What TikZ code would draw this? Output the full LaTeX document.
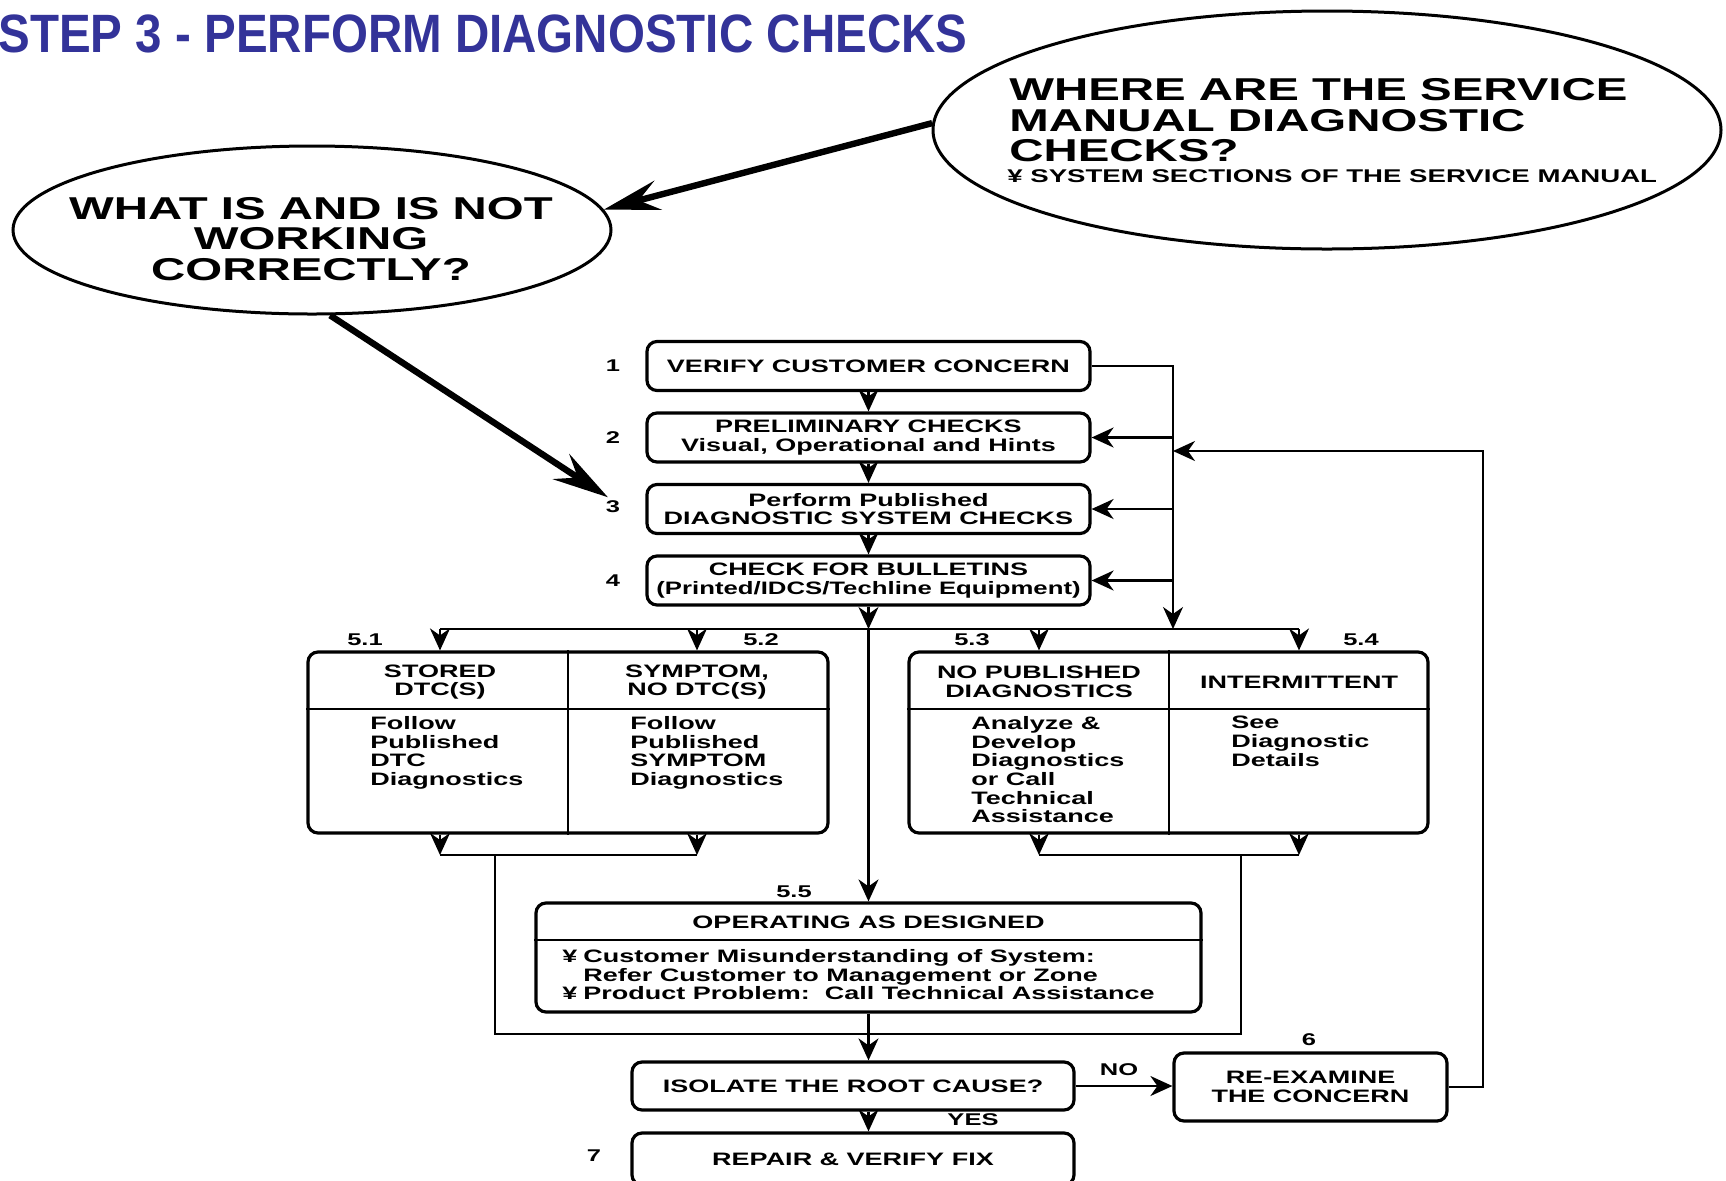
\documentclass[tikz,border=0pt]{standalone}
\usepackage{fontspec}
\setmainfont{Liberation Sans}
\newfontfamily\chartfont[FakeStretch=1.5]{Liberation Sans}
\newfontfamily\tightchart[FakeStretch=1.43]{Liberation Sans}
\newfontfamily\titlefont[FakeStretch=0.88]{Liberation Sans}
\usetikzlibrary{arrows.meta,shapes.geometric,positioning}
\definecolor{titleblue}{RGB}{51,51,153}
\begin{document}
\begin{tikzpicture}[x=0.5pt, y=-0.5pt,
    titletext/.style={inner sep=0pt, text=titleblue, font=\titlefont\bfseries\fontsize{27}{30}\selectfont},
    bubble/.style={draw, ellipse, line width=1.5pt, inner sep=0pt},
    bubbletext/.style={inner sep=0pt, font=\chartfont\bfseries\fontsize{15.8}{15.2}\selectfont},
    subtext/.style={inner sep=0pt, font=\chartfont\bfseries\fontsize{9.2}{10}\selectfont},
    stepbox/.style={draw, line width=1.6pt, rounded corners=5pt, minimum width=221.5pt, minimum height=24.5pt, inner sep=1pt, align=center, font=\chartfont\bfseries\fontsize{9}{9.4}\selectfont},
    groupbox/.style={draw, line width=1.6pt, rounded corners=5pt, inner sep=0pt},
    celltext/.style={inner sep=0pt, font=\chartfont\bfseries\fontsize{9}{9.35}\selectfont},
    tag/.style={inner sep=0pt, font=\chartfont\bfseries\fontsize{8.5}{9}\selectfont},
    divider/.style={line width=1pt},
    conn/.style={line width=1.1pt},
    arr/.style={conn, -{Stealth[length=11pt, width=10pt, inset=3.5pt]}},
    bigarr/.style={line width=3.2pt, -{Stealth[length=28pt, width=15pt, inset=10pt]}}]
    \useasboundingbox (0,0) rectangle (1726,1180);
    \node [titletext, anchor=base west] (title) at (-2,52) {STEP 3 - PERFORM DIAGNOSTIC CHECKS};

    \node [bubble, minimum width=394pt, minimum height=119pt] (whereq) at (1327,130) {};
    \node [bubbletext, anchor=west, align=left] (whereqtxt) at (1009,120.5) {WHERE ARE THE SERVICE\\MANUAL DIAGNOSTIC\\CHECKS?};
    \node [subtext, anchor=base west] (whereqsub) at (1007,182) {¥ SYSTEM SECTIONS OF THE SERVICE MANUAL};
    \node [bubble, minimum width=299pt, minimum height=84pt] (whatq) at (312,230) {};
    \node [bubbletext, align=center] (whatqtxt) at (311,239) {WHAT IS AND IS NOT\\WORKING\\CORRECTLY?};
    \draw [bigarr] (whereq.179) -- (whatq.4);

    \node [stepbox] (box1) at (868.5,366) {VERIFY CUSTOMER CONCERN};
    \node [stepbox] (box2) at (868.5,437.5) {PRELIMINARY CHECKS\\Visual, Operational and Hints};
    \node [stepbox] (box3) at (868.5,509) {Perform Published\\DIAGNOSTIC SYSTEM CHECKS};
    \node [stepbox] (box4) at (868.5,580.5) {CHECK FOR BULLETINS\\{\tightchart(Printed/IDCS/Techline Equipment)}};
    \foreach \n/\y in {1/366, 2/437.5, 3/507, 4/580.5}
        \node [tag] (num\n) at (613,\y) {\n};
    \draw [bigarr, shorten >=3pt] (whatq.282) -- (num3.north);

    \draw [arr] (box1) -- (box2);
    \draw [arr] (box2) -- (box3);
    \draw [arr] (box3) -- (box4);
    \coordinate (rail) at (1173,629);
    \coordinate (dist) at (868.5,629);
    \draw [arr] (box1.east) -| (rail);
    \foreach \b in {box2,box3,box4}
        \draw [arr] (\b.east -| rail) -- (\b.east);
    \draw [arr] (box4.south) -- (dist);

    \node [groupbox, minimum width=260pt, minimum height=90.5pt] (grp1) at (568,742.5) {};
    \node [groupbox, minimum width=259.5pt, minimum height=90.5pt] (grp2) at (1168.5,742.5) {};
    \coordinate (hdline) at (0,709);
    \draw [divider] (grp1.north) -- (grp1.south);
    \draw [divider] (grp2.north) -- (grp2.south);
    \draw [divider] (grp1.west |- hdline) -- (grp1.east |- hdline);
    \draw [divider] (grp2.west |- hdline) -- (grp2.east |- hdline);
    \node [celltext, align=center] (hd51) at (440,682) {STORED\\DTC(S)};
    \node [celltext, align=center] (hd52) at (697,682) {SYMPTOM,\\NO DTC(S)};
    \node [celltext, align=center] (hd53) at (1039,682) {NO PUBLISHED\\DIAGNOSTICS};
    \node [celltext, align=center] (hd54) at (1299,682) {INTERMITTENT};
    \node [celltext, anchor=north west, align=left] (bd51) at (370,716) {Follow\\Published\\DTC\\Diagnostics};
    \node [celltext, anchor=north west, align=left] (bd52) at (630,716) {Follow\\Published\\SYMPTOM\\Diagnostics};
    \node [celltext, anchor=north west, align=left] (bd53) at (971,716) {Analyze \&\\Develop\\Diagnostics\\or Call\\Technical\\Assistance};
    \node [celltext, anchor=north west, align=left] (bd54) at (1231,716) {See\\Diagnostic\\Details};
    \node [tag] (lab51) at (365,640) {5.1};
    \node [tag] (lab52) at (761,640) {5.2};
    \node [tag] (lab53) at (972,640) {5.3};
    \node [tag] (lab54) at (1361,640) {5.4};

    \draw [conn] (hd51 |- dist) -- (hd54 |- dist);
    \foreach \h in {hd51,hd52,hd53,hd54}
        \draw [arr] (\h |- dist) -- (\h |- grp1.north);
    \coordinate (bar) at (0,855);
    \foreach \h in {hd51,hd52,hd53,hd54}
        \draw [arr] (\h |- grp1.south) -- (\h |- bar);
    \draw [conn] (hd51 |- bar) -- (hd52 |- bar);
    \draw [conn] (hd53 |- bar) -- (hd54 |- bar);
    \coordinate (joinL) at (495,855);
    \coordinate (joinR) at (1241,855);
    \coordinate (merge) at (868.5,1034);
    \draw [conn] (joinL) |- (merge) -| (joinR);

    \node [groupbox, minimum width=332.5pt, minimum height=54.5pt] (oad) at (868.5,957.5) {};
    \draw [divider] (oad.west |- 0,940) -- (oad.east |- 0,940);
    \node [celltext] (oadhd) at (868.5,922) {OPERATING AS DESIGNED};
    \node [celltext, anchor=north west, align=left] (oadbd) at (562,949) {\makebox[10.5pt][l]{¥}Customer Misunderstanding of System:\\\hspace*{10.5pt}Refer Customer to Management or Zone\\\makebox[10.5pt][l]{¥}Product Problem:\ \ Call Technical Assistance};
    \node [tag] (lab55) at (794,892) {5.5};
    \draw [arr] (dist) -- (dist |- oad.north);

    \node [stepbox, minimum width=221pt, minimum height=24pt] (isolate) at (853,1086) {ISOLATE THE ROOT CAUSE?};
    \node [stepbox, minimum width=221pt, minimum height=26pt] (repair) at (853,1159) {REPAIR \& VERIFY FIX};
    \node [stepbox, minimum width=136.5pt, minimum height=34pt] (reexam) at (1310.5,1087) {RE-EXAMINE\\THE CONCERN};
    \draw [arr] (oad.south) -- (oad.south |- isolate.north);
    \draw [arr] (isolate.south -| dist) -- (repair.north -| dist);
    \draw [arr] (isolate.east) -- (isolate.east -| reexam.west);
    \coordinate (loop) at (1483,451);
    \draw [arr] (reexam.east) -| (loop) -- (loop -| rail);
    \node [tag] (yes) at (973,1120) {YES};
    \node [tag] (no) at (1119,1070) {NO};
    \node [tag] (num6) at (1309,1040) {6};
    \node [tag] (num7) at (594,1156) {7};
\end{tikzpicture}
\end{document}
